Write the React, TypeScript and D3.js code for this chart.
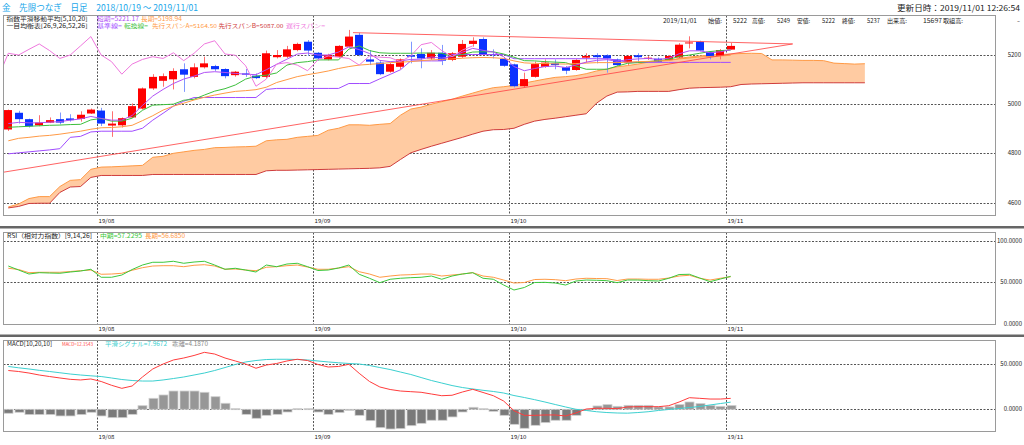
import * as d3 from 'd3';

// ---- values (index 0 = 2019/07/19, index 70 = 2019/11/01) ----
const OPEN = [
  4897, 4965, 4939, 4914, 4925, 4939, 4942, 4940, 4962, 4974,
  4913, 4914, 4946, 4982, 5064, 5095, 5101, 5142, 5111, 5150,
  5155, 5143, 5118, 5125, 5116, 5111, 5191, 5193, 5220, 5254,
  5209, 5182, 5193, 5234, 5282, 5182, 5169, 5132, 5152, 5199,
  5204, 5186, 5209, 5180, 5193, 5245, 5265, 5204, 5184, 5162,
  5073, 5111, 5152, 5166, 5150, 5139, 5189, 5199, 5199, 5182,
  5169, 5199, 5185, 5185, 5180, 5190, 5249, 5254, 5213, 5196,
  5222,
];
const HIGH = [
  4978, 4973, 4941, 4955, 4946, 4966, 4959, 4971, 4982, 4985,
  4971, 4946, 5003, 5068, 5122, 5125, 5146, 5166, 5166, 5193,
  5160, 5146, 5135, 5143, 5125, 5218, 5220, 5237, 5250, 5261,
  5212, 5205, 5240, 5302, 5290, 5220, 5175, 5168, 5186, 5254,
  5227, 5220, 5241, 5212, 5261, 5272, 5272, 5223, 5188, 5165,
  5128, 5173, 5182, 5182, 5155, 5183, 5207, 5207, 5203, 5186,
  5200, 5207, 5196, 5190, 5200, 5248, 5276, 5258, 5216, 5224,
  5249,
];
const LOW = [
  4891, 4921, 4905, 4910, 4923, 4918, 4929, 4929, 4960, 4911,
  4867, 4905, 4944, 4978, 5058, 5071, 5060, 5050, 5105, 5145,
  5135, 5105, 5112, 5111, 5102, 5105, 5186, 5188, 5215, 5196,
  5177, 5178, 5190, 5230, 5195, 5159, 5118, 5128, 5142, 5166,
  5146, 5180, 5159, 5175, 5188, 5234, 5200, 5186, 5152, 5068,
  5068, 5108, 5148, 5142, 5122, 5136, 5169, 5166, 5128, 5155,
  5159, 5169, 5180, 5168, 5176, 5186, 5227, 5215, 5182, 5182,
  5222,
];
const CLOSE = [
  4976, 4939, 4910, 4925, 4935, 4925, 4935, 4957, 4978, 4921,
  4921, 4943, 4992, 5064, 5111, 5114, 5135, 5120, 5150, 5166,
  5142, 5114, 5132, 5120, 5106, 5207, 5200, 5223, 5245, 5218,
  5186, 5200, 5237, 5275, 5200, 5173, 5122, 5163, 5182, 5193,
  5186, 5209, 5177, 5207, 5245, 5258, 5204, 5199, 5156, 5073,
  5102, 5163, 5169, 5159, 5136, 5180, 5196, 5191, 5186, 5159,
  5196, 5191, 5189, 5173, 5196, 5242, 5251, 5218, 5193, 5220,
  5237,
];

const EMA_SHORT = [
  4921, 4926, 4924, 4924, 4927, 4929, 4935, 4940, 4950, 4942,
  4935, 4935, 4954, 4995, 5033, 5060, 5084, 5102, 5114, 5129,
  5132, 5129, 5125, 5122, 5120, 5140, 5162, 5183, 5204, 5208,
  5200, 5200, 5212, 5233, 5222, 5206, 5178, 5173, 5176, 5182,
  5183, 5192, 5187, 5194, 5211, 5227, 5219, 5212, 5193, 5153,
  5136, 5145, 5153, 5155, 5149, 5159, 5171, 5178, 5181, 5174,
  5181, 5184, 5186, 5182, 5187, 5205, 5217, 5217, 5209, 5213,
  5221.17,
];
const EMA_LONG = [
  4851, 4861, 4865, 4870, 4873, 4878, 4884, 4890, 4898, 4904,
  4905, 4908, 4914, 4933, 4953, 4976, 4992, 5004, 5017, 5028,
  5037, 5045, 5052, 5055, 5059, 5069, 5088, 5100, 5112, 5120,
  5127, 5135, 5145, 5153, 5159, 5162, 5165, 5169, 5171, 5173,
  5177, 5180, 5182, 5184, 5187, 5189, 5190, 5189, 5186, 5176,
  5168, 5166, 5165, 5164, 5163, 5165, 5167, 5169, 5169, 5169,
  5171, 5173, 5174, 5176, 5178, 5184, 5188, 5192, 5194, 5196,
  5198.94,
];
const TENKAN = [
  4906, 4908, 4910, 4912, 4914, 4915, 4917, 4918, 4936, 4942,
  4931, 4931, 4943, 4975, 4996, 4998, 5000, 5016, 5020, 5037,
  5053, 5063, 5078, 5102, 5114, 5118, 5127, 5159, 5169, 5173,
  5180, 5180, 5180, 5224, 5237, 5218, 5209, 5207, 5207, 5207,
  5208, 5208, 5207, 5194, 5202, 5212, 5213, 5213, 5204, 5191,
  5177, 5176, 5173, 5171, 5169, 5155, 5142, 5142, 5142, 5155,
  5166, 5169, 5173, 5177, 5182, 5194, 5200, 5207, 5214, 5218,
  5220,
];
const KIJUN = [
  4798, 4802, 4806, 4810, 4814, 4819, 4865, 4869, 4887, 4890,
  4890, 4890, 4890, 4902, 4935, 4963, 4992, 5012, 5027, 5027,
  5027, 5027, 5027, 5027, 5027, 5060, 5064, 5064, 5064, 5064,
  5064, 5064, 5064, 5084, 5084, 5084, 5103, 5121, 5140, 5176,
  5176, 5176, 5176, 5202, 5202, 5202, 5202, 5202, 5202, 5185,
  5185, 5185, 5185, 5185, 5185, 5185, 5185, 5185, 5185, 5179,
  5170, 5170, 5170, 5170, 5170, 5170, 5170, 5170, 5170, 5170,
  5170,
];
// leading spans run 13 bars past the last candle
const SPAN_A = [
  4582, 4594, 4616, 4624, 4624, 4665, 4690, 4693, 4735, 4744,
  4745, 4747, 4749, 4751, 4784, 4788, 4800, 4806, 4812, 4816,
  4823, 4824, 4826, 4827, 4829, 4851, 4855, 4857, 4865, 4869,
  4873, 4894, 4902, 4916, 4916, 4914, 4918, 4921, 4955, 4980,
  4988, 5000, 5010, 5020, 5033, 5045, 5057, 5067, 5071, 5076,
  5086, 5094, 5102, 5109, 5112, 5116, 5124, 5135, 5143, 5152,
  5157, 5163, 5171, 5176, 5178, 5186, 5192, 5196, 5200, 5202,
  5204, 5206, 5207, 5206, 5180, 5180, 5179, 5178, 5178, 5177,
  5167, 5165, 5163, 5164.5,
];
const SPAN_B = [
  4578, 4584, 4596, 4597, 4597, 4641, 4663, 4665, 4702, 4710,
  4710, 4710, 4710, 4710, 4714, 4714, 4714, 4714, 4714, 4714,
  4714, 4714, 4714, 4714, 4714, 4729, 4731, 4731, 4732, 4733,
  4734, 4735, 4736, 4737, 4738, 4739, 4741, 4747, 4775, 4802,
  4816, 4829, 4841, 4853, 4865, 4878, 4890, 4896, 4897, 4902,
  4918, 4931, 4938, 4943, 4949, 4955, 4961, 5004, 5033, 5049,
  5050, 5052, 5052, 5052, 5052, 5059, 5065, 5067, 5068, 5069,
  5071, 5080, 5082, 5083, 5084, 5085, 5086, 5087, 5087, 5087,
  5087, 5087, 5087, 5087,
];
const LAG_SHIFT = 25;

const RSI_MID = [
  69.6, 64.8, 60.0, 61.6, 61.2, 60.9, 62.4, 63.6, 65.7, 56.1,
  56.1, 58.8, 65.4, 70.8, 74.1, 74.1, 75.3, 72.9, 74.4, 75.3,
  70.8, 65.7, 66.9, 64.8, 62.4, 70.8, 68.8, 72.0, 72.9, 68.8,
  64.2, 64.8, 67.2, 70.8, 59.7, 54.9, 49.6, 53.7, 54.9, 55.6,
  56.1, 57.6, 53.7, 57.6, 60.0, 61.6, 54.9, 53.7, 46.8, 40.8,
  43.8, 49.8, 50.0, 49.2, 46.8, 51.6, 52.8, 52.5, 52.0, 49.6,
  52.8, 52.8, 52.0, 51.6, 54.9, 59.4, 59.7, 55.2, 50.8, 54.0,
  57.23,
];
const RSI_LONG = [
  66.9, 65.4, 61.6, 62.1, 62.1, 62.1, 63.0, 64.0, 64.8, 59.7,
  60.0, 60.9, 64.5, 67.6, 69.6, 70.0, 70.0, 68.8, 70.5, 71.2,
  69.6, 65.7, 66.0, 64.8, 64.0, 68.1, 68.8, 70.0, 70.8, 68.4,
  65.7, 65.7, 67.2, 68.8, 62.8, 60.0, 56.1, 57.6, 58.8, 59.2,
  60.0, 60.0, 57.6, 58.8, 60.0, 61.6, 57.6, 56.1, 52.8, 49.2,
  49.8, 53.4, 53.7, 53.2, 52.0, 54.0, 54.9, 54.6, 54.4, 52.2,
  54.0, 54.0, 53.7, 53.7, 55.2, 57.6, 58.5, 54.9, 52.8, 54.9,
  56.69,
];

const MACD = [
  43.1, 42.0, 40.3, 38.1, 36.4, 34.8, 33.3, 32.6, 33.7, 30.9,
  26.7, 23.3, 25.9, 35.9, 44.8, 50.3, 54.8, 57.0, 59.8, 63.3,
  61.4, 57.0, 53.7, 50.3, 45.6, 49.2, 50.9, 53.7, 55.6, 54.2,
  49.8, 47.0, 47.6, 50.0, 40.0, 30.9, 24.8, 22.0, 20.3, 19.6,
  18.9, 17.0, 15.1, 15.6, 19.2, 22.2, 18.7, 15.1, 9.2, -1.6,
  -6.7, -6.7, -6.3, -6.3, -7.4, -4.1, 0.3, 1.1, 1.1, 0.7,
  2.6, 2.9, 2.9, 2.9, 4.0, 8.1, 12.9, 12.2, 11.4, 11.4,
  12.15,
];
const MACD_SIGNAL = [
  47.6, 46.1, 44.8, 43.3, 42.0, 40.6, 39.2, 38.1, 37.2, 36.4,
  34.8, 33.1, 32.0, 31.4, 31.4, 32.6, 34.2, 35.9, 38.1, 40.3,
  43.1, 46.4, 49.8, 52.6, 54.2, 55.3, 55.6, 55.6, 55.3, 54.8,
  53.7, 52.6, 51.7, 50.9, 50.3, 48.7, 46.4, 44.2, 41.4, 38.7,
  35.3, 32.0, 29.2, 26.4, 24.2, 22.6, 21.1, 19.8, 18.1, 15.3,
  13.1, 10.7, 8.1, 5.3, 2.6, 0.0, -1.3, -2.7, -3.6, -4.1,
  -4.3, -3.6, -2.7, -1.3, -0.2, 0.9, 2.0, 3.1, 4.8, 6.4,
  7.97,
];
const MACD_HIST = [
  -4.4, -3.3, -5.9, -5.9, -5.9, -7.4, -7.4, -5.9, -3.3, -7.4,
  -9.3, -9.3, -5.6, 4.0, 12.2, 15.9, 20.3, 20.3, 20.3, 18.9,
  14.0, 6.7, 0.7, -5.6, -10.0, -6.7, -5.6, -3.0, 0.7, 0.7,
  -3.0, -5.6, -3.7, -1.1, -6.7, -12.6, -20.4, -21.9, -21.5, -18.2,
  -15.6, -12.2, -12.2, -8.5, -3.0, 2.2, 0.7, -2.2, -6.7, -16.7,
  -21.1, -17.8, -14.8, -12.2, -12.2, -6.7, -1.1, 3.7, 5.2, 3.3,
  4.4, 4.4, 4.4, 2.6, 2.6, 5.2, 8.1, 6.3, 4.4, 3.3,
  4.19,
];

const MONTHS = [
  { index: 9, label: '19/08' },
  { index: 30, label: '19/09' },
  { index: 49, label: '19/10' },
  { index: 70, label: '19/11' },
];
const PRICE_TICKS = [5200, 5000, 4800, 4600];
const RSI_TICKS = [100, 50, 0];
const RSI_GRID = [100, 50];
const MACD_TICKS = [50, 0];

// trendlines as [index, price] pairs
const TRENDLINES: Array<[[number, number], [number, number]]> = [
  [[-0.5, 4723], [76, 5245]],
  [[33.4, 5291], [76, 5245]],
];

// ---- layout ----
const WIDTH = 1024;
const HEIGHT = 445;
const LEFT = 3.5;
const RIGHT = 995.5;
const MAIN = { top: 15.5, bottom: 215.5 };
const RSI_PANEL = { top: 232.5, bottom: 324.5 };
const MACD_PANEL = { top: 340.5, bottom: 431.5 };
const FONT = "'Noto Sans CJK JP', 'Noto Sans', sans-serif";

const COLORS = {
  up: '#ff0000',
  upWick: '#ff7070',
  down: '#0a32ff',
  downWick: '#7f98ff',
  emaShort: '#b050f5',
  emaLong: '#ff9a45',
  kijun: '#a04cff',
  tenkan: '#3cbf3c',
  spanA: '#ff9a45',
  spanB: '#cf3c3c',
  cloud: '#ffcba2',
  lagging: '#ef78de',
  trend: '#ff4848',
  rsiMid: '#3cc83c',
  rsiLong: '#ff9a45',
  macd: '#ff3c3c',
  signal: '#3cd0d0',
  grid: '#555',
  frame: '#9a9a9a',
  text: '#222',
  title: '#1aa7ea',
};

const x = d3.scaleLinear().domain([0, 70]).range([8.3, 730.7]);
const yPrice = d3.scaleLinear().domain([4600, 5200]).range([202.5, 55]);
const yRsi = d3.scaleLinear().domain([0, 100]).range([324, 240.7]);
const yMacd = d3.scaleLinear().domain([0, 50]).range([409.3, 364.3]);

const seriesPath = (values: number[], y: d3.ScaleLinear<number, number>) =>
  d3.line<number>().x((_, i) => x(i)).y((v) => y(v))(values) ?? '';

function Txt({
  x: tx, y: ty, w, size = 6, fill = COLORS.text, anchor, children,
}: { x: number; y: number; w?: number; size?: number; fill?: string; anchor?: string; children: string }) {
  return (
    <text
      x={tx}
      y={ty}
      fontSize={size}
      fill={fill}
      fontFamily={FONT}
      textAnchor={anchor}
      textLength={w}
      lengthAdjust={w ? 'spacingAndGlyphs' : undefined}
      xmlSpace="preserve"
    >
      {children}
    </text>
  );
}

function MonthLines({ top, bottom, labelY }: { top: number; bottom: number; labelY: number }) {
  return (
    <g>
      {MONTHS.map((m) => {
        const px = Math.round(x(m.index - 0.45)) + 0.5;
        return (
          <g key={m.label}>
            <line x1={px} x2={px} y1={top} y2={bottom} stroke={COLORS.grid} strokeDasharray="2 1.5" />
            <Txt x={px + 1} y={labelY} size={5.6} w={16}>{m.label}</Txt>
          </g>
        );
      })}
    </g>
  );
}

function HGrid({ ys }: { ys: number[] }) {
  return (
    <g>
      {ys.map((gy) => (
        <line key={gy} x1={LEFT} x2={RIGHT + 2} y1={Math.round(gy) + 0.5} y2={Math.round(gy) + 0.5}
          stroke={COLORS.grid} strokeDasharray="2 1.5" />
      ))}
    </g>
  );
}

function Frame({ top, bottom }: { top: number; bottom: number }) {
  return <rect x={LEFT} y={top} width={RIGHT - LEFT} height={bottom - top} fill="none" stroke={COLORS.frame} />;
}

function Candles() {
  return (
    <g>
      {CLOSE.map((c, i) => {
        const o = OPEN[i];
        const isUp = c >= o;
        const cx = Math.round(x(i)) + 0.5;
        const top = yPrice(Math.max(o, c));
        const bottom = yPrice(Math.min(o, c));
        return (
          <g key={i}>
            <line x1={cx} x2={cx} y1={yPrice(HIGH[i])} y2={yPrice(LOW[i])}
              stroke={isUp ? COLORS.upWick : COLORS.downWick} />
            <rect x={cx - 4.5} y={top} width={8} height={Math.max(bottom - top, 1)}
              fill={isUp ? COLORS.up : COLORS.down} />
          </g>
        );
      })}
    </g>
  );
}

export default function App() {
  const cloud = d3.area<number>()
    .x((_, i) => x(i))
    .y0((_, i) => yPrice(SPAN_B[i]))
    .y1((v) => yPrice(v))(SPAN_A) ?? '';

  // lagging span: each close drawn LAG_SHIFT bars back
  const lagging = d3.line<number>()
    .x((_, k) => x(k - LAG_SHIFT))
    .y((v) => yPrice(v))(CLOSE) ?? '';

  return (
    <div style={{ position: 'absolute', left: 0, top: 0 }}>
      <svg width={WIDTH} height={HEIGHT} style={{ display: 'block', background: '#fff' }}>
        <defs>
          <clipPath id="main-clip">
            <rect x={LEFT + 0.5} y={MAIN.top + 0.5} width={RIGHT - LEFT - 1} height={MAIN.bottom - MAIN.top - 1} />
          </clipPath>
        </defs>

        {/* title row */}
        <Txt x={2} y={10.5} size={8.6} w={196} fill={COLORS.title}>金　先限つなぎ　日足　2018/10/19 ～ 2019/11/01</Txt>
        <Txt x={897} y={10.5} size={8} w={123}>更新日時：2019/11/01 12:26:54</Txt>

        {/* ---------- main price panel ---------- */}
        <HGrid ys={PRICE_TICKS.map((t) => yPrice(t))} />
        <MonthLines top={MAIN.top} bottom={MAIN.bottom} labelY={223} />
        <g clipPath="url(#main-clip)">
          <path d={cloud} fill={COLORS.cloud} />
          <path d={seriesPath(SPAN_A, yPrice)} fill="none" stroke={COLORS.spanA} />
          <path d={seriesPath(SPAN_B, yPrice)} fill="none" stroke={COLORS.spanB} />
          <Candles />
          <path d={seriesPath(KIJUN, yPrice)} fill="none" stroke={COLORS.kijun} />
          <path d={seriesPath(TENKAN, yPrice)} fill="none" stroke={COLORS.tenkan} />
          <path d={seriesPath(EMA_LONG, yPrice)} fill="none" stroke={COLORS.emaLong} />
          <path d={seriesPath(EMA_SHORT, yPrice)} fill="none" stroke={COLORS.emaShort} />
          <path d={lagging} fill="none" stroke={COLORS.lagging} />
          {TRENDLINES.map(([a, b], k) => (
            <line key={k} x1={x(a[0])} y1={yPrice(a[1])} x2={x(b[0])} y2={yPrice(b[1])}
              stroke={COLORS.trend} strokeOpacity={0.85} />
          ))}
        </g>
        <Frame top={MAIN.top} bottom={MAIN.bottom} />
        {PRICE_TICKS.map((t) => (
          <Txt key={t} x={1021} y={yPrice(t) + 2} size={6} anchor="end">{String(t)}</Txt>
        ))}

        {/* legend rows */}
        <Txt x={6.5} y={20.6} size={5.6} w={81}>指数平滑移動平均[5,10,20]</Txt>
        <Txt x={97} y={20.6} size={5.6} w={42} fill={COLORS.emaShort}>短期=5221.17</Txt>
        <Txt x={141} y={20.6} size={5.6} w={41} fill={COLORS.emaLong}>長期=5198.94</Txt>
        <Txt x={6.5} y={27.6} size={5.6} w={81}>一目均衡表[26,9,26,52,26]</Txt>
        <Txt x={97} y={27.6} size={5.6} w={25} fill={COLORS.kijun}>基準線=</Txt>
        <Txt x={124} y={27.6} size={5.6} w={24} fill={COLORS.tenkan}>転換線=</Txt>
        <Txt x={152} y={27.6} size={5.6} w={65} fill={COLORS.spanA}>先行スパンA=5164.50</Txt>
        <Txt x={218.5} y={27.6} size={5.6} w={65} fill={COLORS.spanB}>先行スパンB=5087.00</Txt>
        <Txt x={286} y={27.6} size={5.6} w={39} fill={COLORS.lagging}>遅行スパン=</Txt>

        {/* latest bar info */}
        <g>
          <Txt x={663} y={22.8} w={34}>2019/11/01</Txt>
          <Txt x={708} y={22.8} w={14}>始値:</Txt>
          <Txt x={733} y={22.8} w={14}>5222</Txt>
          <Txt x={752} y={22.8} w={13}>高値:</Txt>
          <Txt x={777} y={22.8} w={13}>5249</Txt>
          <Txt x={797} y={22.8} w={13}>安値:</Txt>
          <Txt x={822} y={22.8} w={13}>5222</Txt>
          <Txt x={842} y={22.8} w={13}>終値:</Txt>
          <Txt x={867} y={22.8} w={13}>5237</Txt>
          <Txt x={887} y={22.8} w={20}>出来高:</Txt>
          <Txt x={923} y={22.8} w={19}>15697</Txt>
          <Txt x={943} y={22.8} w={20}>取組高:</Txt>
          <Txt x={1017} y={22.8} w={3}>-</Txt>
        </g>

        <rect x={0} y={226} width={WIDTH} height={2.5} fill="#666" />

        {/* ---------- RSI panel ---------- */}
        <HGrid ys={RSI_GRID.map((t) => yRsi(t))} />
        <MonthLines top={RSI_PANEL.top} bottom={RSI_PANEL.bottom} labelY={330.5} />
        <path d={seriesPath(RSI_LONG, yRsi)} fill="none" stroke={COLORS.rsiLong} />
        <path d={seriesPath(RSI_MID, yRsi)} fill="none" stroke={COLORS.rsiMid} />
        <Frame top={RSI_PANEL.top} bottom={RSI_PANEL.bottom} />
        {RSI_TICKS.map((t) => (
          <Txt key={t} x={1022} y={yRsi(t) + 2} size={6} anchor="end">{t.toFixed(4)}</Txt>
        ))}
        <Txt x={7} y={238} size={6} w={85}>RSI（相対力指数）[9,14,26]</Txt>
        <Txt x={100} y={238} size={6} w={42} fill={COLORS.rsiMid}>中期=57.2295</Txt>
        <Txt x={145} y={238} size={6} w={40} fill={COLORS.rsiLong}>長期=56.6850</Txt>

        <rect x={0} y={334.5} width={WIDTH} height={2.5} fill="#666" />

        {/* ---------- MACD panel ---------- */}
        <HGrid ys={MACD_TICKS.map((t) => yMacd(t))} />
        <MonthLines top={MACD_PANEL.top} bottom={MACD_PANEL.bottom} labelY={439} />
        <g>
          {MACD_HIST.map((v, i) => {
            const y0 = yMacd(0);
            const y1 = yMacd(v);
            return (
              <rect key={i} x={Math.round(x(i)) - 4} y={Math.min(y0, y1)} width={9}
                height={Math.max(Math.abs(y1 - y0), 1)}
                fill={v >= 0 ? '#979797' : '#7a7a7a'} stroke="#cfcfcf" strokeWidth={0.8} />
            );
          })}
        </g>
        <path d={seriesPath(MACD_SIGNAL, yMacd)} fill="none" stroke={COLORS.signal} />
        <path d={seriesPath(MACD, yMacd)} fill="none" stroke={COLORS.macd} />
        <Frame top={MACD_PANEL.top} bottom={MACD_PANEL.bottom} />
        {MACD_TICKS.map((t) => (
          <Txt key={t} x={1022} y={yMacd(t) + 2} size={6} anchor="end">{t.toFixed(4)}</Txt>
        ))}
        <Txt x={7} y={346} size={6} w={45}>MACD[10,20,10]</Txt>
        <Txt x={62} y={346} size={4.4} w={31} fill={COLORS.macd}>MACD=12.1543</Txt>
        <Txt x={105} y={346} size={6} w={62} fill={COLORS.signal}>平滑シグナル=7.9672</Txt>
        <Txt x={172} y={346} size={6} w={36} fill="#888">乖離=4.1870</Txt>
      </svg>
    </div>
  );
}
